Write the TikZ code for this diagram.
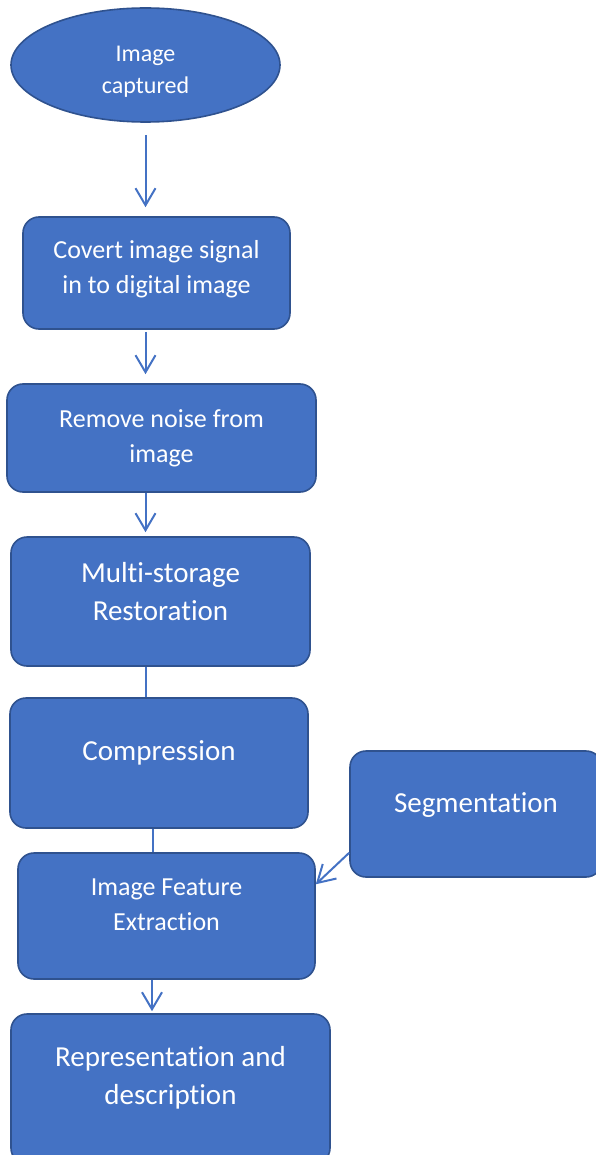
\documentclass[tikz,border=0pt]{standalone}
\usepackage{fontspec}
\setmainfont{Carlito}[Ligatures={NoCommon,NoContextual}, RawFeature={-liga;-clig;-calt}]
\usetikzlibrary{arrows.meta, shapes.geometric}
\definecolor{boxfill}{HTML}{4472C4}
\definecolor{boxline}{HTML}{2F528F}

\begin{document}
\begin{tikzpicture}[x=1pt, y=-1pt,
  stage/.style={rectangle, rounded corners=16pt, draw=boxline, line width=1.6pt, fill=boxfill, text=white, align=center, inner sep=0pt},
  start/.style={ellipse, draw=boxline, line width=1.6pt, fill=boxfill, text=white, align=center, inner sep=0pt, font=\fontsize{24}{32}\selectfont},
  small/.style={font=\fontsize{26}{35}\selectfont},
  big/.style={font=\fontsize{29}{38}\selectfont},
  flow/.style={-{Straight Barb[length=17pt, width=20pt]}, draw=boxfill, line width=2pt},
  link/.style={draw=boxfill, line width=2pt},
]
\useasboundingbox (0,0) rectangle (595,1155);

\node[start, minimum width=269pt, minimum height=114pt, text height=61pt] (cap) at (145.5,65) {Image\\captured};
\node[stage, small, minimum width=267pt, minimum height=112pt, text depth=12pt] (conv) at (156.5,273) {Covert image signal\\in to digital image};
\node[stage, small, minimum width=309pt, minimum height=108pt] (noise) at (161.5,438) {Remove noise from\\image};
\node[stage, big, minimum width=299pt, minimum height=129pt, text depth=20pt] (restore) at (160.5,601.5) {Multi-storage\\Restoration};
\node[stage, big, minimum width=298pt, minimum height=130pt, text depth=24pt] (compress) at (159,763) {Compression};
\node[stage, small, minimum width=297pt, minimum height=126pt, text depth=22pt] (feature) at (166.5,916) {Image Feature\\Extraction};
\node[stage, big, minimum width=319pt, minimum height=150pt, text depth=28pt] (repr) at (170.5,1089) {Representation and\\description};
\node[stage, big, minimum width=252pt, minimum height=126pt, text depth=22pt] (segment) at (476,814) {Segmentation};

% main chain down the left column
\draw[flow, shorten <=12pt, shorten >=9pt] (cap.south) -- (cap.south |- conv.north);
\draw[flow, shorten <=2pt, shorten >=9pt] (cap.south |- conv.south) -- (cap.south |- noise.north);
\draw[flow, shorten >=4pt] (cap.south |- noise.south) -- (cap.south |- restore.north);
\draw[link] (cap.south |- restore.south) -- (cap.south |- compress.north);
\draw[link] ([xshift=-6pt]compress.south) -- ([xshift=-6pt]compress.south |- feature.north);
\draw[flow, shorten >=2pt] ([xshift=-14.5pt]feature.south) -- ([xshift=-14.5pt]feature.south |- repr.north);

% side branch
\draw[flow] (segment.197) -- (feature.12.5);
\end{tikzpicture}
\end{document}
